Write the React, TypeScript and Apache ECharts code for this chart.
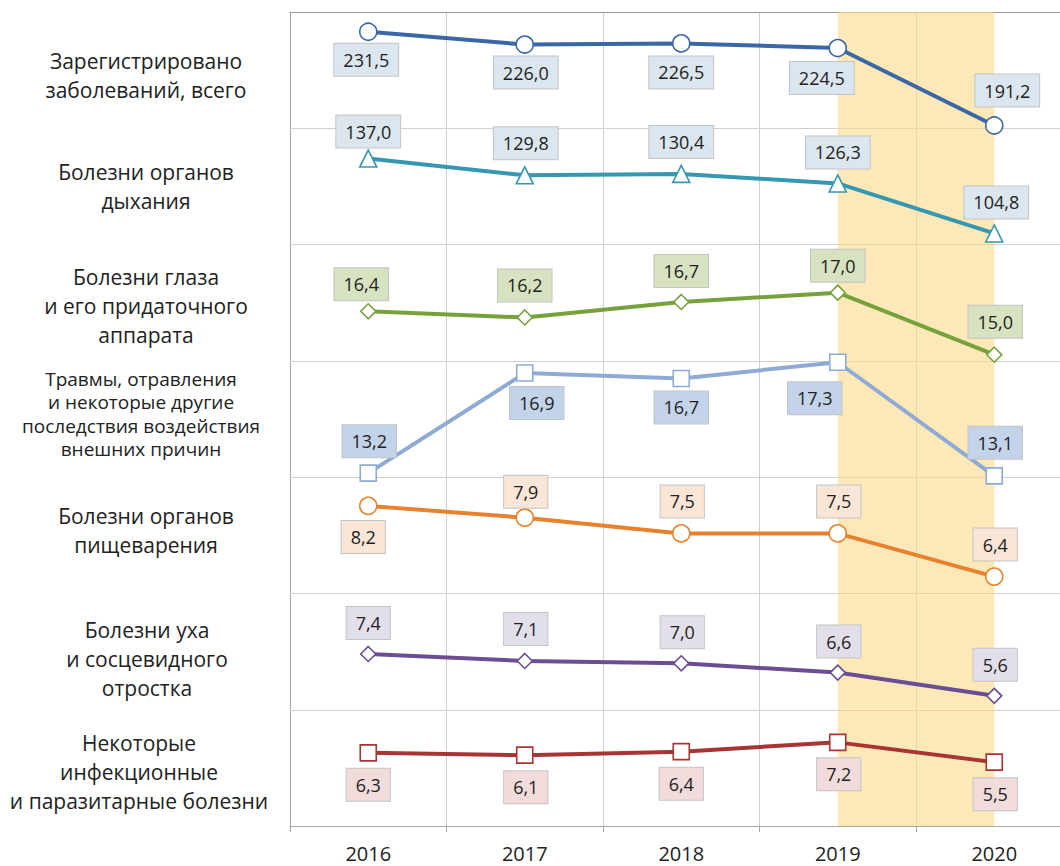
import React, { useEffect, useRef } from "react";
import * as echarts from "echarts";

// ---------- DATA ----------
const years = ["2016", "2017", "2018", "2019", "2020"];
const categoryNames = [
  "Зарегистрировано\nзаболеваний, всего",
  "Болезни органов\nдыхания",
  "Болезни глаза\nи его придаточного\nаппарата",
  "Травмы, отравления\nи некоторые другие\nпоследствия воздействия\nвнешних причин",
  "Болезни органов\nпищеварения",
  "Болезни уха\nи сосцевидного\nотростка",
  "Некоторые\nинфекционные\nи паразитарные болезни",
];
const totalValues = [231.5, 226.0, 226.5, 224.5, 191.2];
const respiratoryValues = [137.0, 129.8, 130.4, 126.3, 104.8];
const eyeValues = [16.4, 16.2, 16.7, 17.0, 15.0];
const injuryValues = [13.2, 16.9, 16.7, 17.3, 13.1];
const digestiveValues = [8.2, 7.9, 7.5, 7.5, 6.4];
const earValues = [7.4, 7.1, 7.0, 6.6, 5.6];
const infectiousValues = [6.3, 6.1, 6.4, 7.2, 5.5];
const highlightFrom = "2019";
const highlightTo = "2020";

// ---------- STYLE / LAYOUT ----------
const PLOT_LEFT = 290;
const PLOT_TOP = 12;
const ROW_H = 116.3;
const PLOT_W = 782.5;
const GRID_COLOR = "#d0d0d0";
const AXIS_COLOR = "#a6a6a6";
const FONT = "'Open Sans', 'Noto Sans', sans-serif";

const rows = [
  { values: totalValues, color: "#3b67a6", bg: "#dce6f0", symbol: "circle", size: 17, min: 190, max: 240,
    offsets: [[-2, 28], [1, 28], [0, 29], [-16, 30], [13, -35]] },
  { values: respiratoryValues, color: "#3597b0", bg: "#dbe6ee", symbol: "triangle", size: 17, min: 100, max: 150,
    offsets: [[0, -27], [1, -32], [0, -32], [0, -31], [2, -31]] },
  { values: eyeValues, color: "#77a13b", bg: "#d7e3c0", symbol: "diamond", size: 15, min: 14.8, max: 18.55,
    offsets: [[-7, -27], [0, -32], [0, -31], [0, -27], [1, -33]] },
  { values: injuryValues, color: "#8eaad5", bg: "#c3d4ea", symbol: "rect", size: 16, min: 13.05, max: 17.35,
    offsets: [[1, -32], [12, 30], [0, 29], [-23, 36], [1, -33]] },
  { values: digestiveValues, color: "#e8812d", bg: "#fae6d6", symbol: "circle", size: 17, min: 5.97, max: 8.93,
    offsets: [[-5, 31], [1, -26], [1, -32], [1, -32], [1, -32]] },
  { values: earValues, color: "#6b4d93", bg: "#e3dfea", symbol: "diamond", size: 15, min: 5, max: 10,
    offsets: [[0, -31], [1, -32], [1, -31], [1, -31], [1, -31]] },
  { values: infectiousValues, color: "#a83434", bg: "#f1dcdb", symbol: "rect", size: 16, min: 0, max: 10,
    offsets: [[0, 32], [1, 32], [0, 32], [1, 32], [1, 32]] },
];

const nameLayout = [
  { x: 146, y: 75, lh: 29, fs: 21 },
  { x: 146, y: 186, lh: 29, fs: 21 },
  { x: 146, y: 306, lh: 29, fs: 21 },
  { x: 141, y: 414, lh: 23.5, fs: 19 },
  { x: 146, y: 530, lh: 29, fs: 21 },
  { x: 147, y: 659, lh: 29, fs: 21 },
  { x: 139, y: 772, lh: 29, fs: 21 },
];

export default function App() {
  const ref = useRef<HTMLDivElement>(null);

  useEffect(() => {
    if (!ref.current) return;
    const chart = echarts.init(ref.current, null, { renderer: "svg" });
    const last = rows.length - 1;

    const grids = rows.map((_, i) => ({
      left: PLOT_LEFT,
      top: PLOT_TOP + i * ROW_H,
      width: PLOT_W,
      height: ROW_H,
      containLabel: false,
      outerBoundsMode: "none",
    }));

    const xAxes: any[] = rows.map((_, i) => ({
      gridIndex: i,
      type: "category",
      data: years,
      boundaryGap: true,
      axisLine: { show: true, lineStyle: { color: i === last ? AXIS_COLOR : GRID_COLOR, width: 1 } },
      axisTick: { show: i === last, interval: 0, length: 6, lineStyle: { color: AXIS_COLOR } },
      axisLabel: {
        show: i === last,
        interval: 0,
        margin: 17,
        color: "#222",
        fontSize: 20,
        fontFamily: FONT,
      },
      splitLine: { show: true, interval: 0, lineStyle: { color: GRID_COLOR, width: 1 } },
    }));
    xAxes.push({
      gridIndex: 0,
      type: "category",
      data: years,
      position: "top",
      axisLine: { show: true, lineStyle: { color: "#9a9a9a" } },
      axisTick: { show: false },
      axisLabel: { show: false },
      splitLine: { show: false },
    });

    const yAxes = rows.map((r, i) => ({
      gridIndex: i,
      type: "value",
      min: r.min,
      max: r.max,
      axisLine: { show: true, lineStyle: { color: AXIS_COLOR } },
      axisTick: { show: false },
      axisLabel: { show: false },
      splitLine: { show: false },
    }));

    const series = rows.map((r, i) => ({
      type: "line",
      xAxisIndex: i,
      yAxisIndex: i,
      symbol: r.symbol,
      symbolSize: r.size,
      z: 3,
      lineStyle: { color: r.color, width: 4 },
      itemStyle: { color: "#ffffff", borderColor: r.color, borderWidth: 1.6 },
      label: {
        show: true,
        position: ["50%", "50%"],
        align: "center",
        verticalAlign: "middle",
        formatter: (p: any) => Number(p.value).toFixed(1).replace(".", ","),
        color: "#222",
        fontSize: 18,
        fontFamily: FONT,
        lineHeight: 20,
        backgroundColor: r.bg,
        borderColor: "#c4c4c4",
        borderWidth: 1,
        padding: [6, 9],
      },
      data: r.values.map((v, j) => ({ value: v, label: { offset: r.offsets[j] } })),
      markArea: {
        silent: true,
        z: 1,
        itemStyle: { color: "rgba(250, 219, 135, 0.6)" },
        data: [[{ xAxis: highlightFrom }, { xAxis: highlightTo }]],
      },
    }));

    const graphic = categoryNames.map((name, i) => ({
      type: "text",
      x: nameLayout[i].x,
      y: nameLayout[i].y,
      style: {
        text: name,
        font: `${nameLayout[i].fs}px ${FONT}`,
        fill: "#222",
        textAlign: "center",
        textVerticalAlign: "middle",
        align: "center",
        verticalAlign: "middle",
        lineHeight: nameLayout[i].lh,
      },
    }));

    chart.setOption({
      animation: false,
      backgroundColor: "#ffffff",
      grid: grids,
      xAxis: xAxes,
      yAxis: yAxes,
      series,
      graphic,
    });

    return () => chart.dispose();
  }, []);

  return (
    <div
      ref={ref}
      style={{ position: "absolute", left: 0, top: 0, width: 1060, height: 866 }}
    />
  );
}
